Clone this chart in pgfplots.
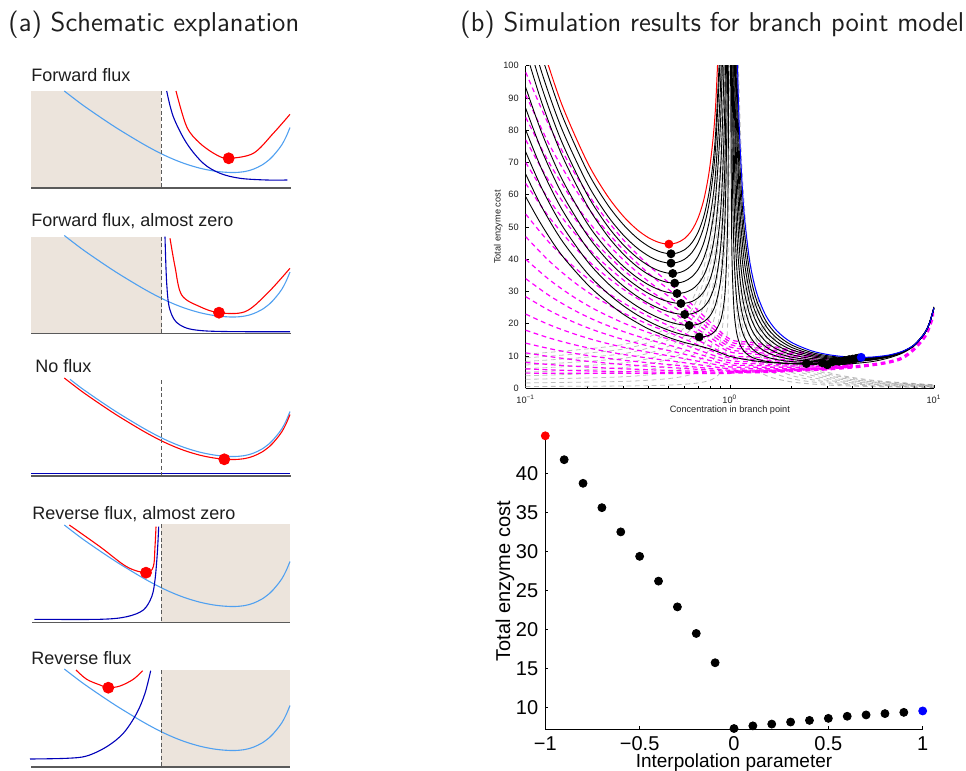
\documentclass[border=0pt]{standalone}
\usepackage{fontspec}
\setmainfont{Liberation Sans}
\usepackage{pgfplots}
\pgfplotsset{compat=1.18}

\definecolor{shade}{RGB}{236,228,220}
\definecolor{lblue}{RGB}{80,160,240}
\definecolor{dblue}{RGB}{0,0,185}
\definecolor{mred}{RGB}{255,0,0}
\definecolor{mag}{RGB}{255,0,255}
\definecolor{lgray}{RGB}{190,190,190}
\definecolor{dgray}{RGB}{110,110,110}
\definecolor{basegray}{RGB}{90,90,90}
\definecolor{txt}{RGB}{30,30,30}

\pgfplotsset{
  schem/.style={hide axis, scale only axis, clip=false, y dir=reverse,
    xmin=28, xmax=292, width=132pt, height=50pt, anchor=north west},
  sc/.style={smooth, tension=0.55, line width=0.55pt, no markers},
  vline/.style={basegray, line width=0.5pt, dash pattern=on 2pt off 1.3pt, no markers},
  baseln/.style={basegray, line width=0.8pt, no markers},
  sdot/.style={only marks, mark=*, mark size=2.75pt, mred},
  blk/.style={black, line width=0.45pt, smooth, no markers},
  mg/.style={mag, line width=0.6pt, smooth, no markers, dash pattern=on 2.4pt off 1.8pt},
  gr/.style={lgray, line width=0.4pt, smooth, no markers, dash pattern=on 2.4pt off 1.8pt},
  gd/.style={dgray, opacity=0.45, line width=0.45pt, smooth, no markers, dash pattern=on 2.4pt off 1.8pt},
}

\begin{document}
\begin{tikzpicture}
\path[use as bounding box] (0pt,0pt) rectangle (483pt,-385.5pt);

% titles
\node[anchor=west, font=\sffamily\fontsize{13.6}{16}\selectfont, text=txt, inner sep=0pt] at (4pt,-12.5pt) {(a) Schematic explanation};
\node[anchor=west, font=\sffamily\fontsize{13.6}{16}\selectfont, text=txt, inner sep=0pt] at (230pt,-12.5pt) {(b) Simulation results for branch point model};

\begin{scope}[every node/.style={anchor=base west, font=\fontsize{9}{11}\selectfont, text=txt, inner sep=0pt}]
\node at (15.5pt,-40.85pt) {Forward flux};
\node at (15.5pt,-113.3pt) {Forward flux, almost zero};
\node at (17.5pt,-186pt) {No flux};
\node at (16pt,-259.7pt) {Reverse flux, almost zero};
\node at (15.5pt,-332pt) {Reverse flux};
\end{scope}

% panel 1: forward flux
\begin{axis}[schem, ymin=90, ymax=190, at={(14pt,-45pt)}]
\addplot[fill=shade, draw=none] coordinates {(31,91)(161,91)(161,188)(31,188)} -- cycle;
\addplot[baseln] coordinates {(31,188)(291,188)};
\addplot[sc, lblue] coordinates {(64.3,91)(82,104.5)(100,117)(116,127.6)(133.3,138.2)(147,146.2)(161,153.6)(174,159.5)(186.7,164.3)(200,168.2)(213.3,170.9)(225,172.2)(235,172.5)(245,171.5)(253.3,169.2)(262,165)(270,159)(276,152.5)(281.7,145)(286,137)(290,127.5)};
\addplot[sc, dblue] coordinates {(166.7,91)(173.3,116.7)(186.7,143.3)(203.3,163.3)(220,173.3)(240,178.3)(266.7,180)(287.3,180)};
\addplot[sc, mred] coordinates {(176,91)(186.7,126.7)(200,143.3)(216.7,155)(228.7,158.3)(253.3,153.3)(273.3,133.3)(290,114.3)};
\addplot[vline] coordinates {(161,91)(161,188)};
\addplot[sdot] coordinates {(228.7,158.3)};
\end{axis}

% panel 2: forward flux, almost zero
\begin{axis}[schem, ymin=235, ymax=335, at={(14pt,-117.5pt)}]
\addplot[fill=shade, draw=none] coordinates {(31,236.7)(161.7,236.7)(161.7,333.3)(31,333.3)} -- cycle;
\addplot[baseln] coordinates {(31,333.3)(291,333.3)};
\addplot[sc, lblue] coordinates {(64.3,235.5)(82,249)(100,261.5)(116,272.1)(133.3,282.7)(147,290.7)(161,298.1)(174,304)(186.7,308.8)(200,312.7)(213.3,315.4)(225,316.7)(235,317)(245,316)(253.3,313.7)(262,309.5)(270,303.5)(276,297)(281.7,289.5)(286,281.5)(290,272)};
\addplot[sc, dblue] coordinates {(165,236.7)(166.7,283.3)(170,310)(180,325)(206.7,331)(290,331.7)};
\addplot[sc, mred] coordinates {(170,238.3)(175,266.7)(181.7,295)(200,306.7)(219,312.7)(245,311.7)(266.7,294)(290,268.3)};
\addplot[vline] coordinates {(161.7,236.7)(161.7,333.3)};
\addplot[sdot] coordinates {(219,312.7)};
\end{axis}

% panel 3: no flux
\begin{axis}[schem, ymin=378, ymax=478, at={(14pt,-189pt)}]
\addplot[baseln] coordinates {(31,476)(291,476)};
\addplot[dblue, line width=0.55pt] coordinates {(31,473.3)(290,473.3)};
\addplot[sc, lblue] coordinates {(70,379.3)(82,388.5)(100,401)(116,411.6)(133.3,422.2)(147,430.2)(161,437.6)(174,443.5)(186.7,448.3)(200,452.2)(213.3,454.9)(225,456.2)(235,456.5)(245,455.5)(253.3,453.2)(262,449)(270,443)(276,436.5)(281.7,429)(286,421)(290,411.5)};
\addplot[sc, mred] coordinates {(64.3,378)(82,391.5)(100,404)(116,414.6)(133.3,425.2)(147,433.2)(161,440.6)(174,446.5)(186.7,451.3)(200,455.2)(213.3,457.9)(225,459.2)(235,459.5)(245,458.5)(253.3,456.2)(262,452)(270,446)(276,439.5)(281.7,432)(286,424)(290,414.5)};
\addplot[vline] coordinates {(161,380)(161,476)};
\addplot[sdot] coordinates {(224.3,459.3)};
\end{axis}

% panel 4: reverse flux, almost zero
\begin{axis}[schem, ymin=523, ymax=623, at={(14pt,-261.5pt)}]
\addplot[fill=shade, draw=none] coordinates {(161,524.3)(290,524.3)(290,622.3)(161,622.3)} -- cycle;
\addplot[baseln] coordinates {(32,622.3)(290,622.3)};
\addplot[sc, lblue] coordinates {(64.3,525)(82,538.5)(100,551)(116,561.6)(133.3,572.2)(147,580.2)(161,587.6)(174,593.5)(186.7,598.3)(200,602.2)(213.3,604.9)(225,606.2)(235,606.5)(245,605.5)(253.3,603.2)(262,599)(270,593)(276,586.5)(281.7,579)(286,571)(290,561.5)};
\addplot[sc, dblue] coordinates {(34.3,619.3)(100,619.3)(126.7,616.7)(143.3,610)(151.7,596.7)(155,580)(157.3,553.3)(158.7,526.7)};
\addplot[sc, mred] coordinates {(69.3,525)(100,546.7)(126.7,566.7)(146,572.7)(153.3,566.7)(155,546.7)(156,526.7)};
\addplot[vline] coordinates {(161,524.3)(161,622.3)};
\addplot[sdot] coordinates {(146,572.7)};
\end{axis}

% panel 5: reverse flux
\begin{axis}[schem, ymin=668, ymax=768, at={(14pt,-334pt)}]
\addplot[fill=shade, draw=none] coordinates {(161,670)(290,670)(290,766.7)(161,766.7)} -- cycle;
\addplot[baseln] coordinates {(31,766.7)(290,766.7)};
\addplot[sc, lblue] coordinates {(64.3,669)(82,682.5)(100,695)(116,705.6)(133.3,716.2)(147,724.2)(161,731.6)(174,737.5)(186.7,742.3)(200,746.2)(213.3,748.9)(225,750.2)(235,750.5)(245,749.5)(253.3,747.2)(262,743)(270,737)(276,730.5)(281.7,723)(286,715)(290,705.5)};
\addplot[sc, dblue] coordinates {(30,759)(66.7,758.3)(86.7,756)(106.7,746.7)(123.3,733.3)(136.7,713.3)(145,693.3)(150.7,670.7)};
\addplot[sc, mred] coordinates {(76,670)(86.7,679.3)(100,685)(108.3,687.7)(120,686)(133.3,679.3)(142.7,670.7)};
\addplot[vline] coordinates {(161,670)(161,766.7)};
\addplot[sdot] coordinates {(108.3,687.7)};
\end{axis}

% (b) top: cost curves over concentration
\begin{axis}[
  at={(262.85pt,-194.15pt)}, anchor=south west,
  scale only axis, width=204.15pt, height=161.3pt,
  xmode=log, xmin=0.1, xmax=10, ymin=0, ymax=100,
  axis x line*=bottom, axis y line*=left, axis line style={-, line width=0.4pt},
  xtick={0.1,1,10},
  xticklabels={10\textsuperscript{−1},10\textsuperscript{0},10\textsuperscript{1}},
  minor xtick={0.2,0.3,0.4,0.5,0.6,0.7,0.8,0.9,2,3,4,5,6,7,8,9},
  ytick={0,10,...,100},
  tick align=inside, major tick length=1.6pt, minor tick length=1pt,
  tick style={black, line width=0.3pt},
  tick label style={font=\fontsize{4.6}{5.5}\selectfont, text=txt},
  /pgf/number format/assume math mode=true,
  xlabel={Concentration in branch point}, ylabel={Total enzyme cost},
  label style={font=\fontsize{4.6}{5.5}\selectfont, text=txt},
  xlabel style={at={(axis description cs:0.5,-0.067)}, anchor=center},
  ylabel style={at={(axis description cs:-0.067,0.5)}, anchor=center},
]
% gray dashed, left of 1
\addplot[gr] coordinates {(0.1,0.56)(0.3,0.71)(0.5,1.0)(0.65,1.43)(0.75,2.0)(0.82,2.78)(0.87,3.85)(0.9,5.0)(0.93,7.14)(0.95,10)(0.97,16.67)(0.98,25)(0.99,50)(0.995,100)};
\addplot[gr] coordinates {(0.1,1.67)(0.3,2.14)(0.5,3.0)(0.65,4.29)(0.75,6.0)(0.82,8.33)(0.87,11.54)(0.9,15)(0.93,21.43)(0.95,30)(0.97,50)(0.98,75)(0.99,150)};
\addplot[gr] coordinates {(0.1,2.78)(0.3,3.57)(0.5,5.0)(0.65,7.14)(0.75,10)(0.82,13.89)(0.87,19.23)(0.9,25)(0.93,35.71)(0.95,50)(0.97,83.33)(0.98,125)};
\addplot[gr] coordinates {(0.1,3.89)(0.3,5.0)(0.5,7.0)(0.65,10)(0.75,14)(0.82,19.44)(0.87,26.92)(0.9,35)(0.93,50)(0.95,70)(0.97,116.7)};
\addplot[gr] coordinates {(0.1,5.0)(0.3,6.43)(0.5,9.0)(0.65,12.86)(0.75,18)(0.82,25)(0.87,34.62)(0.9,45)(0.93,64.29)(0.95,90)(0.97,150)};
\addplot[gr] coordinates {(0.1,6.11)(0.3,7.86)(0.5,11)(0.65,15.71)(0.75,22)(0.82,30.56)(0.87,42.31)(0.9,55)(0.93,78.57)(0.95,110)};
\addplot[gr] coordinates {(0.1,7.22)(0.3,9.29)(0.5,13)(0.65,18.57)(0.75,26)(0.82,36.11)(0.87,50)(0.9,65)(0.93,92.86)(0.95,130)};
\addplot[gr] coordinates {(0.1,8.33)(0.3,10.71)(0.5,15)(0.65,21.43)(0.75,30)(0.82,41.67)(0.87,57.69)(0.9,75)(0.93,107.1)};
\addplot[gr] coordinates {(0.1,9.44)(0.3,12.14)(0.5,17)(0.65,24.29)(0.75,34)(0.82,47.22)(0.87,65.38)(0.9,85)(0.93,121.4)};
\addplot[gr] coordinates {(0.1,10.56)(0.3,13.57)(0.5,19)(0.65,27.14)(0.75,38)(0.82,52.78)(0.87,73.08)(0.9,95)(0.93,135.7)};
% gray dashed, right of 1
\addplot[gd] coordinates {(1.018,111.1)(1.02,100)(1.04,50)(1.07,28.57)(1.1,20)(1.15,13.33)(1.25,8)(1.5,4)(2,2)(3,1)(5,0.5)(10,0.22)};
\addplot[gd] coordinates {(1.027,111.1)(1.04,75)(1.07,42.86)(1.1,30)(1.15,20)(1.25,12)(1.5,6)(2,3)(3,1.5)(5,0.75)(10,0.33)};
\addplot[gd] coordinates {(1.036,111.1)(1.04,100)(1.07,57.14)(1.1,40)(1.15,26.67)(1.25,16)(1.5,8)(2,4)(3,2)(5,1)(10,0.44)};
\addplot[gd] coordinates {(1.045,111.1)(1.07,71.43)(1.1,50)(1.15,33.33)(1.25,20)(1.5,10)(2,5)(3,2.5)(5,1.25)(10,0.56)};
\addplot[gd] coordinates {(1.055,109.1)(1.07,85.71)(1.1,60)(1.15,40)(1.25,24)(1.5,12)(2,6)(3,3)(5,1.5)(10,0.67)};
\addplot[gd] coordinates {(1.064,109.4)(1.07,100)(1.1,70)(1.15,46.67)(1.25,28)(1.5,14)(2,7)(3,3.5)(5,1.75)(10,0.78)};
\addplot[gd] coordinates {(1.073,109.6)(1.1,80)(1.15,53.33)(1.25,32)(1.5,16)(2,8)(3,4)(5,2)(10,0.89)};
\addplot[gd] coordinates {(1.082,109.8)(1.1,90)(1.15,60)(1.25,36)(1.5,18)(2,9)(3,4.5)(5,2.25)(10,1)};
\addplot[gd] coordinates {(1.09,111.1)(1.1,100)(1.15,66.67)(1.25,40)(1.5,20)(2,10)(3,5)(5,2.5)(10,1.11)};
% magenta dashed
\addplot[mg] coordinates {(0.1,98)(0.13,81.54)(0.17,67.71)(0.22,56.77)(0.3,46.11)(0.4,38.16)(0.55,30.49)(0.75,22.27)(1.0,15.25)(1.25,14.33)(1.5,13.4)(2,11.86)(2.5,10.72)(3,9.38)(4,7.83)};
\addplot[mg] coordinates {(0.1,91)(0.13,75.78)(0.17,62.97)(0.22,52.85)(0.3,42.99)(0.4,35.64)(0.55,28.55)(0.75,20.94)(1.0,14.45)(1.25,13.61)(1.5,12.76)(2,11.36)(2.5,10.34)(3,9.12)(4,7.73)};
\addplot[mg] coordinates {(0.1,84)(0.13,70.01)(0.17,58.24)(0.22,48.94)(0.3,39.88)(0.4,33.12)(0.55,26.6)(0.75,19.61)(1.0,13.64)(1.25,12.88)(1.5,12.11)(2,10.86)(2.5,9.95)(3,8.85)(4,7.64)};
\addplot[mg] coordinates {(0.1,77)(0.13,64.24)(0.17,53.51)(0.22,45.03)(0.3,36.76)(0.4,30.6)(0.55,24.66)(0.75,18.28)(1.0,12.84)(1.25,12.16)(1.5,11.47)(2,10.36)(2.5,9.56)(3,8.59)(4,7.54)};
\addplot[mg] coordinates {(0.1,70)(0.13,58.47)(0.17,48.78)(0.22,41.11)(0.3,33.65)(0.4,28.08)(0.55,22.71)(0.75,16.95)(1.0,12.03)(1.25,11.43)(1.5,10.82)(2,9.86)(2.5,9.17)(3,8.32)(4,7.44)};
\addplot[mg] coordinates {(0.1,63.5)(0.13,53.12)(0.17,44.38)(0.22,37.48)(0.3,30.76)(0.4,25.74)(0.55,20.9)(0.75,15.71)(1.0,11.29)(1.25,10.76)(1.5,10.23)(2,9.4)(2.5,8.82)(3,8.08)(4,7.35)};
\addplot[mg] coordinates {(0.1,54)(0.13,45.29)(0.17,37.96)(0.22,32.17)(0.3,26.53)(0.4,22.32)(0.55,18.26)(0.75,13.91)(1.0,10.19)(1.25,9.77)(1.5,9.35)(2,8.72)(2.5,8.29)(3,7.71)(4,7.22)};
\addplot[mg] coordinates {(0.1,47)(0.13,39.52)(0.17,33.23)(0.22,28.26)(0.3,23.41)(0.4,19.8)(0.55,16.32)(0.75,12.58)(1.0,9.39)(1.25,9.05)(1.5,8.71)(2,8.22)(2.5,7.91)(3,7.45)(4,7.13)};
\addplot[mg] coordinates {(0.1,40)(0.13,33.75)(0.17,28.5)(0.22,24.34)(0.3,20.3)(0.4,17.28)(0.55,14.37)(0.75,11.25)(1.0,8.58)(1.25,8.32)(1.5,8.06)(2,7.72)(2.5,7.52)(3,7.18)(4,7.03)};
\addplot[mg] coordinates {(0.1,34)(0.13,28.81)(0.17,24.44)(0.22,20.99)(0.3,17.63)(0.4,15.12)(0.55,12.7)(0.75,10.11)(1.0,7.89)(1.25,7.7)(1.5,7.51)(2,7.29)(2.5,7.19)(3,6.95)(4,6.95)};
\addplot[mg] coordinates {(0.1,28.4)(0.13,24.19)(0.17,20.66)(0.22,17.86)(0.3,15.14)(0.4,13.1)(0.55,11.14)(0.75,9.04)(1.0,7.25)(1.25,7.13)(1.5,7.0)(2,6.9)(2.5,6.88)(3,6.74)(4,6.87)};
\addplot[mg] coordinates {(0.1,23)(0.13,19.74)(0.17,17.01)(0.22,14.84)(0.3,12.73)(0.4,11.16)(0.55,9.64)(0.75,8.02)(1.0,6.63)(1.25,6.57)(1.5,6.5)(2,6.51)(2.5,6.58)(3,6.54)(4,6.8)};
\addplot[mg] coordinates {(0.1,18)(0.13,15.62)(0.17,13.63)(0.22,12.05)(0.3,10.51)(0.4,9.36)(0.55,8.25)(0.75,7.07)(1.0,6.05)(1.25,6.05)(1.5,6.04)(2,6.15)(2.5,6.3)(3,6.35)(4,6.73)};
\addplot[mg] coordinates {(0.1,14)(0.13,12.33)(0.17,10.92)(0.22,9.81)(0.3,8.73)(0.4,7.92)(0.55,7.14)(0.75,6.31)(1.0,5.59)(1.25,5.63)(1.5,5.67)(2,5.87)(2.5,6.08)(3,6.19)(4,6.67)};
\addplot[mg] coordinates {(0.1,11)(0.13,9.86)(0.17,8.89)(0.22,8.13)(0.3,7.39)(0.4,6.84)(0.55,6.31)(0.75,5.74)(1.0,5.25)(1.25,5.33)(1.5,5.4)(2,5.66)(2.5,5.92)(3,6.08)(4,6.63)};
\addplot[mg] coordinates {(0.1,8)(0.13,7.38)(0.17,6.87)(0.22,6.46)(0.3,6.06)(0.4,5.76)(0.55,5.47)(0.75,5.17)(1.0,4.9)(1.25,5.01)(1.5,5.12)(2,5.44)(2.5,5.75)(3,5.97)(4,6.59)};
\addplot[mg] coordinates {(0.1,6.0)(0.13,5.74)(0.17,5.51)(0.22,5.34)(0.3,5.17)(0.4,5.04)(0.55,4.92)(0.75,4.79)(1.0,4.67)};
\addplot[mg] coordinates {(0.1,4.7)(0.3,4.64)(1.0,4.55)};
\addplot[mg, line width=1.6pt] coordinates {(1.0,5.0)(1.25,5.1)(1.5,5.2)(2,5.5)(2.5,5.8)(3,6.0)(4,6.6)(5,7.3)(6,8.1)(7,9.4)(8,12.2)(9,16.0)(9.5,19.2)(10,23.5)};
% zero line
\addplot[black, line width=0.5pt, dash pattern=on 2pt off 1.5pt] coordinates {(0.1,0)(10,0)};
% black curves, minimum left of 1
\addplot[blk] coordinates {(0.12,102.9)(0.15,84.97)(0.2,67.39)(0.25,57.22)(0.3,50.82)(0.35,46.66)(0.4,43.99)(0.45,42.42)(0.5,41.75)(0.55,41.91)(0.6,42.96)(0.65,45.03)(0.7,48.47)(0.75,53.91)(0.8,62.74)(0.85,78.16)(0.9,109.9)};
\addplot[blk] coordinates {(0.1,115.2)(0.12,97.8)(0.15,80.53)(0.2,63.57)(0.25,53.76)(0.3,47.59)(0.35,43.59)(0.4,41.01)(0.45,39.48)(0.5,38.84)(0.55,39.0)(0.6,40.01)(0.65,42.0)(0.7,45.31)(0.75,50.56)(0.8,59.07)(0.85,73.94)(0.9,104.6)};
\addplot[blk] coordinates {(0.1,110.0)(0.12,93.2)(0.15,76.49)(0.2,60.08)(0.25,50.55)(0.3,44.54)(0.35,40.59)(0.4,38.01)(0.45,36.44)(0.5,35.69)(0.55,35.69)(0.6,36.47)(0.65,38.14)(0.7,41.01)(0.75,45.61)(0.8,53.13)(0.85,66.31)(0.9,93.54)(0.93,129)};
\addplot[blk] coordinates {(0.1,104.6)(0.12,88.49)(0.15,72.47)(0.2,56.69)(0.25,47.51)(0.3,41.67)(0.35,37.81)(0.4,35.26)(0.45,33.64)(0.5,32.78)(0.55,32.62)(0.6,33.16)(0.65,34.51)(0.7,36.89)(0.75,40.81)(0.8,47.27)(0.85,58.67)(0.9,82.28)(0.93,113.1)};
\addplot[blk] coordinates {(0.1,93.29)(0.12,79.13)(0.15,65.06)(0.2,51.17)(0.25,43.06)(0.3,37.87)(0.35,34.42)(0.4,32.08)(0.45,30.56)(0.5,29.69)(0.55,29.4)(0.6,29.68)(0.65,30.62)(0.7,32.38)(0.75,35.37)(0.8,40.35)(0.85,49.22)(0.9,67.66)(0.93,91.78)(0.95,124.2)};
\addplot[blk] coordinates {(0.1,86.8)(0.12,73.62)(0.15,60.5)(0.2,47.54)(0.25,39.92)(0.3,35.02)(0.35,31.7)(0.4,29.4)(0.45,27.85)(0.5,26.86)(0.55,26.37)(0.6,26.36)(0.65,26.89)(0.7,28.06)(0.75,30.18)(0.8,33.85)(0.85,40.46)(0.9,54.34)(0.93,72.57)(0.95,97.08)(0.97,154.5)};
\addplot[blk] coordinates {(0.1,80.1)(0.12,67.83)(0.15,55.62)(0.2,43.51)(0.25,36.38)(0.3,31.75)(0.35,28.58)(0.4,26.35)(0.45,24.79)(0.5,23.74)(0.55,23.12)(0.6,22.9)(0.65,23.12)(0.7,23.86)(0.75,25.33)(0.8,27.98)(0.85,32.88)(0.9,43.28)(0.93,57.02)(0.95,75.51)(0.97,118.9)};
\addplot[blk] coordinates {(0.1,73.3)(0.12,61.97)(0.15,50.68)(0.2,39.46)(0.25,32.82)(0.3,28.48)(0.35,25.49)(0.4,23.34)(0.45,21.79)(0.5,20.69)(0.55,19.97)(0.6,19.57)(0.65,19.52)(0.7,19.88)(0.75,20.77)(0.8,22.52)(0.85,25.88)(0.9,33.15)(0.93,42.84)(0.95,55.92)(0.97,86.67)(0.98,125.2)};
\addplot[blk] coordinates {(0.1,66.39)(0.12,56.15)(0.15,45.92)(0.2,35.73)(0.25,29.65)(0.3,25.64)(0.35,22.82)(0.4,20.76)(0.45,19.2)(0.5,18.03)(0.55,17.14)(0.6,16.49)(0.65,16.08)(0.7,15.9)(0.75,16.01)(0.8,16.54)(0.85,17.84)(0.9,20.93)(0.93,25.2)(0.95,31.05)(0.97,44.88)(0.98,62.29)(0.99,114.6)};
% black curve, parameter 0
\addplot[blk] coordinates {(0.1,59.4)(0.12,50.5)(0.15,41.3)(0.2,32.3)(0.25,26.8)(0.3,23.0)(0.35,20.4)(0.4,18.4)(0.5,15.8)(0.6,14.2)(0.7,13.2)(0.8,12.2)(0.9,11.0)(1.0,9.9)(1.2,8.9)(1.5,8.1)(2.0,7.6)(2.5,7.35)(3.0,7.3)(3.5,7.4)(4.0,7.65)(5.0,8.3)(6.0,9.4)(7.0,10.9)(8.0,13.2)(9.0,17.1)(9.5,20.2)(10,24.9)};
% black curves, minimum right of 1
\addplot[blk] coordinates {(1.008,112.9)(1.01,91.6)(1.02,49.06)(1.03,34.89)(1.05,23.54)(1.08,17.17)(1.12,13.64)(1.17,11.57)(1.25,10.0)(1.35,9.06)(1.5,8.39)(1.7,7.98)(2.0,7.74)(2.5,7.68)(3.0,7.78)(3.5,7.97)(4.0,8.23)(5.0,8.91)(6.0,9.89)(7.0,11.31)(8.0,13.5)(9.0,17.27)(9.5,20.4)(10,25.26)};
\addplot[blk] coordinates {(1.016,112.6)(1.02,91.3)(1.03,62.96)(1.05,40.27)(1.08,27.52)(1.12,20.43)(1.17,16.28)(1.25,13.11)(1.35,11.2)(1.5,9.79)(1.7,8.9)(2.0,8.29)(2.5,7.95)(3.0,7.91)(3.5,8.01)(4.0,8.21)(5.0,8.83)(6.0,9.77)(7.0,11.16)(8.0,13.33)(9.0,17.08)(9.5,20.2)(10,25.06)};
\addplot[blk] coordinates {(1.024,112.4)(1.03,91.16)(1.05,57.12)(1.08,37.99)(1.12,27.36)(1.17,21.12)(1.25,16.35)(1.35,13.46)(1.5,11.33)(1.7,9.95)(2.0,8.98)(2.5,8.35)(3.0,8.17)(3.5,8.19)(4.0,8.33)(5.0,8.88)(6.0,9.77)(7.0,11.14)(8.0,13.28)(9.0,17.03)(9.5,20.14)(10,24.99)};
\addplot[blk] coordinates {(1.032,112.3)(1.05,73.98)(1.08,48.47)(1.12,34.29)(1.17,25.97)(1.25,19.59)(1.35,15.73)(1.5,12.88)(1.7,11.01)(2.0,9.67)(2.5,8.76)(3.0,8.44)(3.5,8.37)(4.0,8.46)(5.0,8.93)(6.0,9.78)(7.0,11.12)(8.0,13.25)(9.0,16.97)(9.5,20.08)(10,24.92)};
\addplot[blk] coordinates {(1.04,112.2)(1.05,90.93)(1.08,59.04)(1.12,41.3)(1.17,30.9)(1.25,22.92)(1.35,18.09)(1.5,14.5)(1.7,12.15)(2.0,10.45)(2.5,9.25)(3.0,8.79)(3.5,8.64)(4.0,8.67)(5.0,9.07)(6.0,9.88)(7.0,11.19)(8.0,13.29)(9.0,17.01)(9.5,20.1)(10,24.94)};
\addplot[blk] coordinates {(1.048,112.2)(1.06,90.89)(1.08,69.64)(1.12,48.35)(1.17,35.87)(1.25,26.28)(1.35,20.48)(1.5,16.16)(1.7,13.33)(2.0,11.26)(2.5,9.78)(3.0,9.17)(3.5,8.94)(4.0,8.91)(5.0,9.24)(6.0,10.01)(7.0,11.29)(8.0,13.37)(9.0,17.07)(9.5,20.16)(10,25.0)};
\addplot[blk] coordinates {(1.056,112.1)(1.07,90.77)(1.08,80.16)(1.12,55.32)(1.17,40.75)(1.25,29.57)(1.35,22.79)(1.5,17.74)(1.7,14.42)(2.0,11.99)(2.5,10.22)(3.0,9.48)(3.5,9.16)(4.0,9.07)(5.0,9.33)(6.0,10.06)(7.0,11.31)(8.0,13.37)(9.0,17.06)(9.5,20.14)(10,24.97)};
\addplot[blk] coordinates {(1.064,112.0)(1.08,90.67)(1.1,73.66)(1.12,62.3)(1.17,45.65)(1.25,32.86)(1.35,25.12)(1.5,19.34)(1.7,15.53)(2.0,12.73)(2.5,10.68)(3.0,9.8)(3.5,9.39)(4.0,9.25)(5.0,9.44)(6.0,10.12)(7.0,11.34)(8.0,13.39)(9.0,17.06)(9.5,20.13)(10,24.96)};
\addplot[blk] coordinates {(1.072,111.9)(1.09,90.57)(1.12,69.29)(1.17,50.55)(1.25,36.17)(1.35,27.44)(1.5,20.94)(1.7,16.64)(2.0,13.48)(2.5,11.15)(3.0,10.12)(3.5,9.63)(4.0,9.43)(5.0,9.55)(6.0,10.19)(7.0,11.38)(8.0,13.41)(9.0,17.06)(9.5,20.13)(10,24.95)};
% red (parameter -1) and blue (parameter 1)
\addplot[mred, line width=0.5pt, smooth, no markers] coordinates {(0.12,106.4)(0.15,88.12)(0.2,70.19)(0.25,59.87)(0.3,53.42)(0.35,49.27)(0.4,46.66)(0.45,45.21)(0.5,44.70)(0.55,45.10)(0.6,46.44)(0.65,48.91)(0.7,52.91)(0.75,59.15)(0.8,69.18)(0.85,86.63)(0.9,122.5)};
\addplot[blue, line width=0.5pt, smooth, no markers] coordinates {(1.08,111.8)(1.1,90.52)(1.12,76.32)(1.17,55.5)(1.25,39.51)(1.35,29.82)(1.5,22.58)(1.7,17.8)(2.0,14.27)(2.5,11.66)(3.0,10.49)(3.5,9.91)(4.0,9.65)(4.4,9.6)(5.0,9.7)(6.0,10.3)(7.0,11.46)(8.0,13.47)(9.0,17.11)(9.5,20.17)(10,24.99)};
% optima
\addplot[only marks, mark=*, mark size=2pt, black] coordinates {(0.515,41.7)(0.515,38.8)(0.525,35.6)(0.537,32.6)(0.551,29.4)(0.576,26.3)(0.601,22.9)(0.632,19.5)(0.708,15.9)(3.0,7.3)(2.37,7.67)(2.84,7.9)(3.17,8.16)(3.43,8.37)(3.65,8.63)(3.84,8.9)(4.0,9.07)(4.15,9.24)(4.28,9.4)};
\addplot[only marks, mark=*, mark size=2pt, mred] coordinates {(0.503,44.7)};
\addplot[only marks, mark=*, mark size=2pt, blue] coordinates {(4.4,9.6)};
\end{axis}

% (b) bottom: optimal cost vs interpolation parameter
\begin{axis}[
  at={(272.65pt,-364.65pt)}, anchor=south west,
  scale only axis, width=188.7pt, height=148pt,
  xmin=-1, xmax=1, ymin=7.23, ymax=45.12,
  axis x line*=bottom, axis y line*=left, axis line style={-, line width=0.5pt},
  xtick={-1,-0.5,0,0.5,1}, xticklabels={−1,−0.5,0,0.5,1},
  ytick={10,15,...,40},
  tick align=inside, major tick length=1.5pt,
  tick style={black, line width=0.4pt},
  tick label style={font=\fontsize{10}{12}\selectfont},
  xticklabel style={inner sep=1pt, yshift=-2.45pt},
  /pgf/number format/assume math mode=true,
  xlabel={Interpolation parameter}, ylabel={Total enzyme cost},
  label style={font=\fontsize{10}{12}\selectfont},
  xlabel style={at={(axis description cs:0.5,-0.0801)}, anchor=north, inner sep=0pt, font=\fontsize{9.5}{11}\selectfont},
  ylabel style={at={(axis description cs:-0.107,0.5)}, anchor=center},
  clip=false,
]
\addplot[only marks, mark=*, mark size=2pt, black] coordinates {(-0.9,41.74)(-0.8,38.72)(-0.7,35.6)(-0.6,32.5)(-0.5,29.37)(-0.4,26.2)(-0.3,22.9)(-0.2,19.5)(-0.1,15.75)(0,7.33)(0.1,7.67)(0.2,7.9)(0.3,8.16)(0.4,8.37)(0.5,8.63)(0.6,8.9)(0.7,9.07)(0.8,9.24)(0.9,9.4)};
\addplot[only marks, mark=*, mark size=2pt, mred] coordinates {(-1,44.8)};
\addplot[only marks, mark=*, mark size=2pt, blue] coordinates {(1,9.58)};
\end{axis}
\end{tikzpicture}
\end{document}
